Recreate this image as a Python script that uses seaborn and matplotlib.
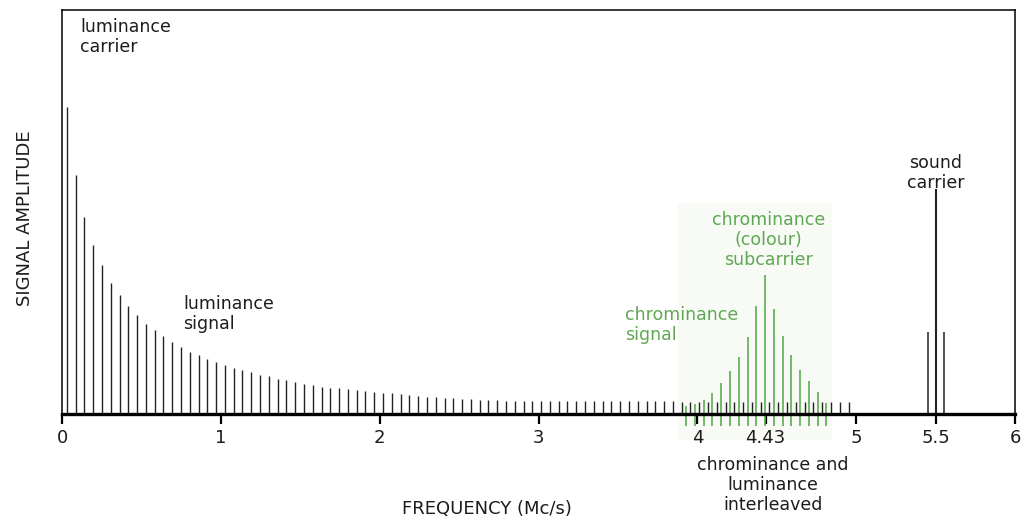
import matplotlib.pyplot as plt
import seaborn as sns
from matplotlib.patches import Rectangle

# luminance harmonics (Mc/s) and their amplitudes
luminance_freq = [
    0.030, 0.085, 0.141, 0.196, 0.251, 0.307, 0.362, 0.417, 0.472, 0.528,
    0.583, 0.638, 0.694, 0.749, 0.804, 0.860, 0.915, 0.970, 1.025, 1.081,
    1.136, 1.191, 1.247, 1.302, 1.357, 1.413, 1.468, 1.523, 1.578, 1.634,
    1.689, 1.744, 1.800, 1.855, 1.910, 1.966, 2.021, 2.076, 2.131, 2.187,
    2.242, 2.297, 2.353, 2.408, 2.463, 2.519, 2.574, 2.629, 2.684, 2.740,
    2.795, 2.850, 2.906, 2.961, 3.016, 3.072, 3.127, 3.182, 3.237, 3.293,
    3.348, 3.403, 3.459, 3.514, 3.569, 3.625, 3.680, 3.735, 3.790, 3.846,
    3.901, 3.956, 4.012, 4.067, 4.122, 4.178, 4.233, 4.288, 4.343, 4.399,
    4.454, 4.509, 4.565, 4.620, 4.675, 4.731, 4.786, 4.841, 4.896, 4.952,
]
luminance_amp = [
    307, 239, 197, 169, 149, 131, 119, 108, 99, 90,
    84, 78, 72, 67, 62, 59, 55, 52, 49, 46,
    44, 42, 39, 38, 35, 34, 32, 30, 29, 27,
    26, 26, 25, 24, 23, 22, 21, 21, 20, 19,
    18, 17, 17, 16, 16, 15, 15, 14, 14, 14,
    13, 13, 13, 13, 13, 13, 13, 13, 13, 13,
    13, 13, 13, 13, 13, 13, 13, 13, 13, 13,
    12, 12, 12, 12, 12, 12, 12, 12, 12, 12,
    12, 12, 12, 12, 12, 12, 12, 12, 12, 12,
]

# chrominance sidebands around the 4.43 Mc/s subcarrier
chroma_freq = [
    3.928, 3.984, 4.039, 4.094, 4.150, 4.205, 4.260, 4.316, 4.371,
    4.426, 4.481, 4.537, 4.592, 4.647, 4.703, 4.758, 4.813,
]
chroma_amp = [8, 10, 14, 21, 31, 43, 57, 77, 108, 139, 105, 78, 59, 44, 33, 22, 11]

# sound carrier and its sidebands
sound_freq = [5.45, 5.50, 5.55]
sound_amp = [82, 225, 82]

tick_positions = [0, 1, 2, 3, 4, 4.43, 5, 5.5, 6]
tick_labels = ["0", "1", "2", "3", "4", "4.43", "5", "5.5", "6"]

GREEN_LINE = "#5fae52"
GREEN_TEXT = "#5fa853"
INK = "#1c1c1c"


def main() -> None:
    sns.set_theme(style="ticks", rc={
        "axes.edgecolor": "black",
        "xtick.color": "black",
        "text.color": INK,
        "xtick.labelcolor": INK,
    })
    plt.rcParams["font.family"] = ["DejaVu Sans"]

    fig = plt.figure(figsize=(10.29, 5.2), dpi=100)
    ax = fig.add_axes([0.0603, 0.2038, 0.9261, 0.7769])

    # faint panel behind the chrominance region
    ax.add_patch(Rectangle((3.88, -26), 0.97, 237, facecolor="#f8faf6", edgecolor="none",
                           zorder=0, clip_on=False))

    ax.vlines(chroma_freq, -12, chroma_amp, color=GREEN_LINE, linewidth=1.2, zorder=1, clip_on=False)
    ax.vlines(luminance_freq, 0, luminance_amp, color="#222222", linewidth=1.0, zorder=2)
    ax.vlines(sound_freq, 0, sound_amp, color="#222222", linewidth=[1.1, 1.5, 1.1], zorder=2)

    ax.set_xlim(0, 6)
    ax.set_ylim(0, 404)
    ax.set_yticks([])
    ax.set_xticks(tick_positions)
    ax.set_xticklabels(tick_labels, fontsize=13)
    ax.tick_params(axis="x", direction="out", length=7, width=1.6, pad=4)

    for side in ["left", "top", "right"]:
        ax.spines[side].set_linewidth(1.1)
    ax.spines["bottom"].set_linewidth(2.4)
    ax.spines["bottom"].set_zorder(3)

    text_kw = {"fontsize": 12.5, "linespacing": 1.15}
    ax.text(0.113, 396, "luminance\ncarrier", ha="left", va="top", **text_kw)
    ax.text(0.762, 119, "luminance\nsignal", ha="left", va="top", **text_kw)
    ax.text(4.446, 203, "chrominance\n(colour)\nsubcarrier", ha="center", va="top",
            color=GREEN_TEXT, **text_kw)
    ax.text(3.545, 108, "chrominance\nsignal", ha="left", va="top", color=GREEN_TEXT, **text_kw)
    ax.text(5.5, 260, "sound\ncarrier", ha="center", va="top", **text_kw)
    ax.text(4.477, -42, "chrominance and\nluminance\ninterleaved", ha="center", va="top", **text_kw)

    fig.text(487 / 1029, 1 - 509 / 520, "FREQUENCY (Mc/s)", ha="center", va="center", fontsize=13)
    fig.text(25 / 1029, 1 - 218 / 520, "SIGNAL AMPLITUDE", ha="center", va="center",
             rotation=90, fontsize=13)

    fig.savefig("out.png", dpi=100)


if __name__ == "__main__":
    main()
